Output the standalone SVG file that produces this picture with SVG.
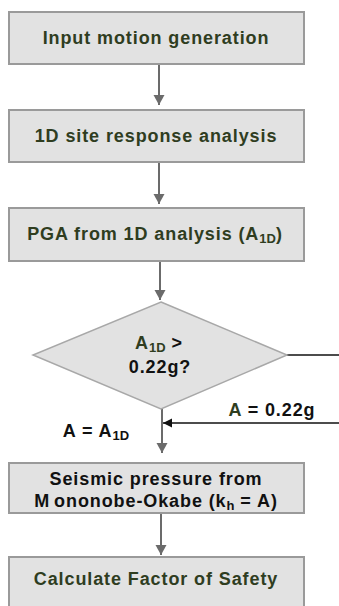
<svg xmlns="http://www.w3.org/2000/svg" width="339" height="606" viewBox="0 0 339 606">
  <style>
    .box { fill: #e2e2e2; stroke: #9a9a9a; stroke-width: 2; }
    .dia { fill: #e2e2e2; stroke: #a8a8a8; stroke-width: 1.5; }
    .t { font-family: "Liberation Sans", Arial, sans-serif; font-weight: bold; font-size: 18px; letter-spacing: 0.9px; text-anchor: middle; }
    .g { fill: #2f3d1f; }
    .k { fill: #111111; }
    .flow { stroke: #6b6b6b; stroke-width: 2; fill: none; }
    .wire { stroke: #111111; stroke-width: 1.5; fill: none; }
    .sub { font-size: 13px; letter-spacing: 0; }
  </style>
  <defs>
    <marker id="head-gray" markerUnits="userSpaceOnUse" markerWidth="12" markerHeight="12" refX="10" refY="5.5" orient="auto">
      <path d="M0,0 L10,5.5 L0,11 z" fill="#6b6b6b"/>
    </marker>
    <marker id="head-black" markerUnits="userSpaceOnUse" markerWidth="12" markerHeight="12" refX="9" refY="4.5" orient="auto">
      <path d="M0,0 L9,4.5 L0,9 z" fill="#111111"/>
    </marker>
  </defs>

  <g id="connectors">
    <line class="flow" x1="159" y1="65" x2="159" y2="105" marker-end="url(#head-gray)"/>
    <line class="flow" x1="159" y1="163" x2="159" y2="204" marker-end="url(#head-gray)"/>
    <line class="flow" x1="160" y1="262" x2="160" y2="300" marker-end="url(#head-gray)"/>
    <line class="flow" x1="162" y1="409" x2="162" y2="453" marker-end="url(#head-gray)"/>
    <line class="flow" x1="161" y1="514" x2="161" y2="555" marker-end="url(#head-gray)"/>
    <line class="wire" x1="287" y1="355" x2="339" y2="355"/>
    <line class="wire" x1="339" y1="423" x2="163" y2="423" marker-end="url(#head-black)"/>
  </g>

  <g id="input-motion">
    <rect class="box" x="9" y="12" width="295" height="52"/>
    <text class="t g" x="156" y="44">Input motion generation</text>
  </g>

  <g id="site-response">
    <rect class="box" x="9" y="110" width="295" height="52"/>
    <text class="t g" x="156" y="142">1D site response analysis</text>
  </g>

  <g id="pga">
    <rect class="box" x="9" y="208" width="295" height="53"/>
    <text class="t g" x="155" y="240">PGA from 1D analysis (A<tspan class="sub" dy="3">1D</tspan><tspan dy="-3">)</tspan></text>
  </g>

  <g id="decision">
    <polygon class="dia" points="161,302 287,355 161,409 33,355"/>
    <text class="t" x="159" y="349"><tspan class="g">A</tspan><tspan class="g sub" dy="3">1D</tspan><tspan class="k" dy="-3"> &gt;</tspan></text>
    <text class="t k" x="160" y="373">0.22g?</text>
  </g>

  <g id="label-cap">
    <text class="t" x="272" y="416"><tspan class="g">A</tspan><tspan class="k"> =  0.22g</tspan></text>
  </g>

  <g id="label-direct">
    <text class="t k" x="96" y="437">A =  A<tspan class="sub" dy="3">1D</tspan></text>
  </g>

  <g id="seismic-pressure">
    <rect class="box" x="9" y="463" width="295" height="50"/>
    <text class="t k" x="156" y="485">Seismic pressure from</text>
    <text class="t k" x="156" y="507">M<tspan dx="4">ononobe-Okabe (k</tspan><tspan class="sub" dy="3">h</tspan><tspan dy="-3"> =  A)</tspan></text>
  </g>

  <g id="factor-of-safety">
    <rect class="box" x="9" y="557" width="295" height="52"/>
    <text class="t g" x="156" y="585">Calculate Factor of Safety</text>
  </g>
</svg>
